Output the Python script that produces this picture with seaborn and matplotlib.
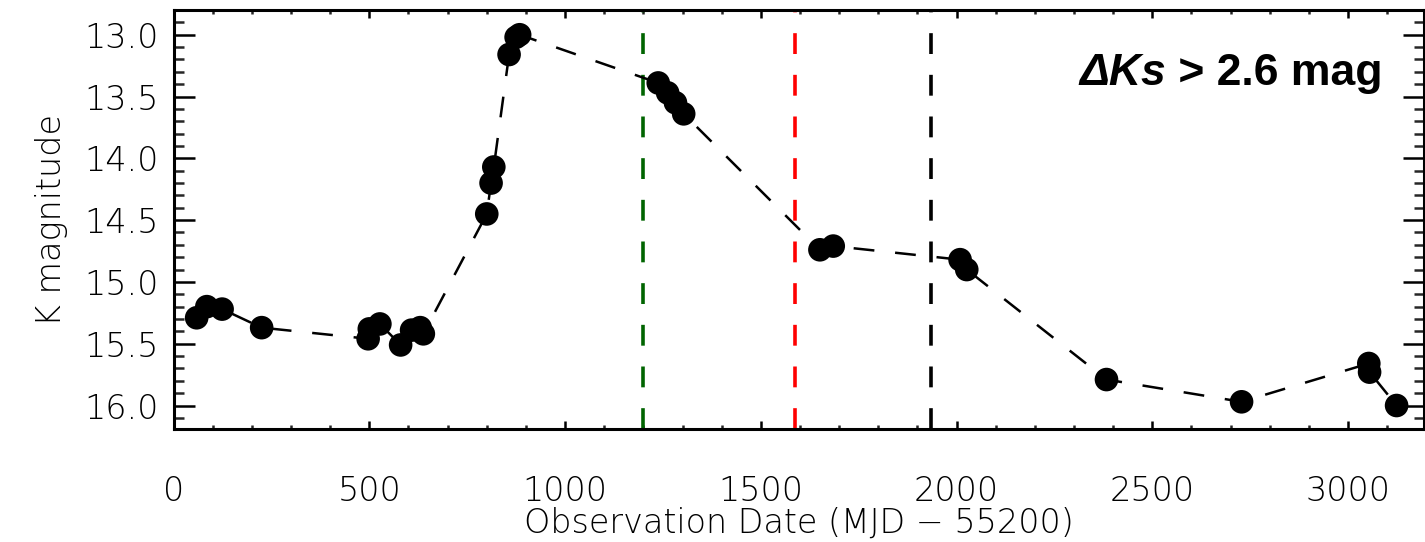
import numpy as np
import pandas as pd
import matplotlib
matplotlib.use("Agg")
import matplotlib.pyplot as plt
from matplotlib.ticker import MultipleLocator
import seaborn as sns

# ---- data ----
mjd = [59, 85, 124, 225, 497, 500, 527, 580, 608, 630, 638,
       800, 811, 818, 857, 875, 884,
       1238, 1262, 1282, 1303,
       1651, 1685, 2009, 2026,
       2383, 2728, 3053, 3055, 3124]
kmag = [15.29, 15.20, 15.22, 15.37, 15.46, 15.38, 15.34, 15.51, 15.39, 15.37, 15.42,
        14.45, 14.20, 14.07, 13.16, 13.02, 13.00,
        13.39, 13.47, 13.55, 13.64,
        14.74, 14.71, 14.82, 14.90,
        15.79, 15.97, 15.66, 15.73, 16.00]
vlines_x = [1200, 1588, 1934]
vlines_colors = ["#006400", "#ff0000", "#000000"]
x_label = "Observation Date (MJD \u2212 55200)"
y_label = "K magnitude"
annot_main = "\u0394Ks"
annot_rest = " > 2.6 mag"

df = pd.DataFrame({"mjd": mjd, "kmag": kmag})

sns.set_theme(style="ticks")
plt.rcParams["font.family"] = ["DejaVu Sans"]

fig = plt.figure(figsize=(14.25, 5.42), dpi=100)
ax = fig.add_axes([0.1218, 0.2085, 0.8775, 0.773])

lw = 1.8
sns.lineplot(data=df, x="mjd", y="kmag", sort=False, estimator=None,
             color="black", lw=lw, ax=ax, zorder=3)
ax.lines[-1].set_dashes((15 / lw, 15 / lw))
sns.scatterplot(data=df, x="mjd", y="kmag", color="black", s=17 ** 2,
                edgecolor="none", ax=ax, zorder=4)

for xv, c in zip(vlines_x, vlines_colors):
    ax.axvline(xv, color=c, lw=2.6, dashes=(15 / 2.6, 15 / 2.6), zorder=2)

ax.set_xlim(0, 3194)
ax.set_ylim(16.19, 12.8)

ax.xaxis.set_major_locator(MultipleLocator(500))
ax.xaxis.set_minor_locator(MultipleLocator(100))
ax.yaxis.set_major_locator(MultipleLocator(0.5))
ax.yaxis.set_minor_locator(MultipleLocator(0.1))
ax.yaxis.set_major_formatter(matplotlib.ticker.FormatStrFormatter("%.1f"))

for s in ax.spines.values():
    s.set_linewidth(2.2)
    s.set_color("black")

ax.tick_params(axis="x", which="major", direction="in", length=6, width=1.8,
               top=True, bottom=True, pad=33, labelsize=24, colors="black")
ax.tick_params(axis="x", which="minor", direction="in", length=3, width=1.8,
               top=True, bottom=True)
ax.tick_params(axis="y", which="major", direction="in", length=15, width=1.8,
               left=True, right=True, pad=10.5, labelsize=24, colors="black")
ax.tick_params(axis="y", which="minor", direction="in", length=7.5, width=1.8,
               left=True, right=True)
for lab in ax.get_xticklabels() + ax.get_yticklabels():
    lab.set_fontweight(200)

ax.set_xlabel(x_label, fontsize=24, fontweight=200, labelpad=-1, color="black")
ax.set_ylabel(y_label, fontsize=24, fontweight=200, labelpad=12, color="black")
ax.grid(False)

t2 = ax.text(0.967, 0.821, annot_rest, transform=ax.transAxes, ha="right",
             va="baseline", fontsize=32, fontweight="bold",
             family=["Liberation Sans", "DejaVu Sans"], color="black")
fig.canvas.draw()
bb = t2.get_window_extent()
x0 = ax.transAxes.inverted().transform((bb.x0, 0))[0]
ax.text(x0, 0.821, annot_main, transform=ax.transAxes, ha="right",
        va="baseline", fontsize=32, fontweight="bold", fontstyle="italic",
        family=["Liberation Sans", "DejaVu Sans"], color="black")

fig.savefig("out.png", dpi=100)
